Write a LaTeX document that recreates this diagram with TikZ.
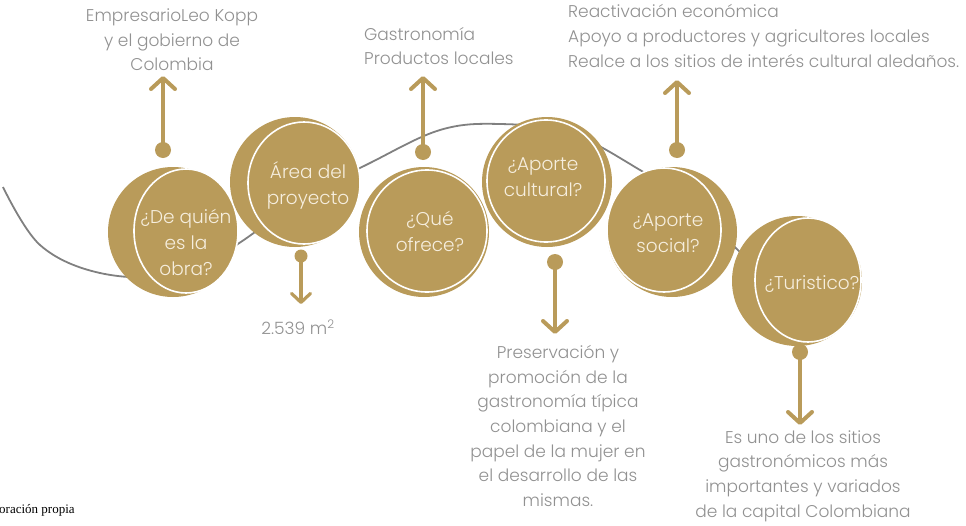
\documentclass[tikz,border=0pt]{standalone}
\usepackage{fontspec}
\setmainfont{Poppins}[UprightFont=* Light]
\newfontfamily\srf{Liberation Serif}
\usetikzlibrary{arrows.meta,calc}
\definecolor{gold}{RGB}{185,155,90}
\definecolor{cream}{RGB}{246,238,222}
\definecolor{graytext}{RGB}{145,145,145}
\definecolor{curvegray}{RGB}{128,128,128}
\begin{document}
\begin{tikzpicture}[x=1pt,y=-1pt,
  bub/.style={circle, fill=gold, minimum size=130pt, inner sep=0pt},
  ring/.style={draw=white, line width=1.6pt, fill=gold},
  intext/.style={text=cream, font=\fontsize{18.5}{26}\selectfont, align=center, inner sep=0pt},
  outtext/.style={text=graytext, font=\fontsize{17}{24.6}\selectfont, inner sep=0pt},
  pin/.style={circle, fill=gold, minimum size=16pt, inner sep=0pt},
  smallpin/.style={circle, fill=gold, minimum size=13pt, inner sep=0pt},
  arr/.style={draw=gold, line width=4pt, line cap=round, -{Straight Barb[length=11pt,width=24pt,round]}},
  smallarr/.style={draw=gold, line width=3.2pt, line cap=round, -{Straight Barb[length=9pt,width=19pt,round]}},
  curve/.style={draw=curvegray, line width=1.8pt}
]
\useasboundingbox (0,0) rectangle (966,525);

% background wave
\draw[curve] plot[smooth, tension=0.6] coordinates {(3,187) (40,245) (100,273) (175,275) (233,247) (300,200) (370,163) (440,130) (500,124) (570,133) (640,170) (700,210) (740,252) (790,290)};

% bubbles
\node[bub] (b1) at (173,232) {};
\draw[ring] (186,231) ellipse [x radius=52pt, y radius=62pt];
\node[bub] (b2) at (295,182) {};
\draw[ring] (304,183) ellipse [x radius=56pt, y radius=61pt];
\node[bub] (b3) at (424,232) {};
\draw[ring] (427,231) ellipse [x radius=60pt, y radius=61pt];
\node[bub] (b4) at (547,182) {};
\draw[ring] (546,181) ellipse [x radius=59pt, y radius=61pt];
\node[bub] (b5) at (672,232) {};
\draw[ring] (664,230) ellipse [x radius=57pt, y radius=62pt];
\node[bub] (b6) at (797,281) {};
\draw[ring] (808,280) ellipse [x radius=53pt, y radius=62pt];

% bubble texts
\node[intext] (q1) at (186,242) {¿De quién\\es la\\obra?};
\node[intext] (q2) at (308,185) {Área del\\proyecto};
\node[intext] (q3) at (430,231) {¿Qué\\ofrece?};
\node[intext] (q4) at (543,177) {¿Aporte\\cultural?};
\node[intext] (q5) at (668,233) {¿Aporte\\social?};
\node[intext] (q6) at (812,284) {¿Turistico?};

% outside texts
\node[outtext, align=center] (a1) at (172,40) {EmpresarioLeo Kopp\\y el gobierno de\\Colombia};
\node[outtext, align=left, anchor=west] (a3) at (364,46) {Gastronomía\\Productos locales};
\node[outtext, align=left, anchor=west] (a5) at (568,36) {Reactivación económica\\Apoyo a productores y agricultores locales\\Realce a los sitios de interés cultural aledaños.};
\node[outtext] (a2) at (298,327) {2.539 m\textsuperscript{2}};
\node[outtext, align=center] (a4) at (558,426) {Preservación y\\promoción de la\\gastronomía típica\\colombiana y el\\papel de la mujer en\\el desarrollo de las\\mismas.};
\node[outtext, align=center] (a6) at (803,476) {Es uno de los sitios\\gastronómicos más\\importantes y variados\\de la capital Colombiana};
\node[anchor=west, inner sep=0pt, font=\srf\fontsize{13}{14}\selectfont] (src) at (-1,510) {oración propia};

% pins and arrows
\node[pin] (p1) at (163,150) {};
\coordinate (t1) at (163,76);
\draw[arr] (p1.center) -- (t1);

\node[smallpin] (p2) at (301,256) {};
\coordinate (t2) at (301,304);
\draw[smallarr] (p2.center) -- (t2);

\node[pin] (p3) at (423,152) {};
\coordinate (t3) at (423,76);
\draw[arr] (p3.center) -- (t3);

\node[pin] (p4) at (555,262) {};
\coordinate (t4) at (555,334);
\draw[arr] (p4.center) -- (t4);

\node[pin] (p5) at (677,150) {};
\coordinate (t5) at (677,80);
\draw[arr] (p5.center) -- (t5);

\node[pin] (p6) at (800,352) {};
\coordinate (t6) at (800,425);
\draw[arr] (p6.center) -- (t6);
\end{tikzpicture}
\end{document}
